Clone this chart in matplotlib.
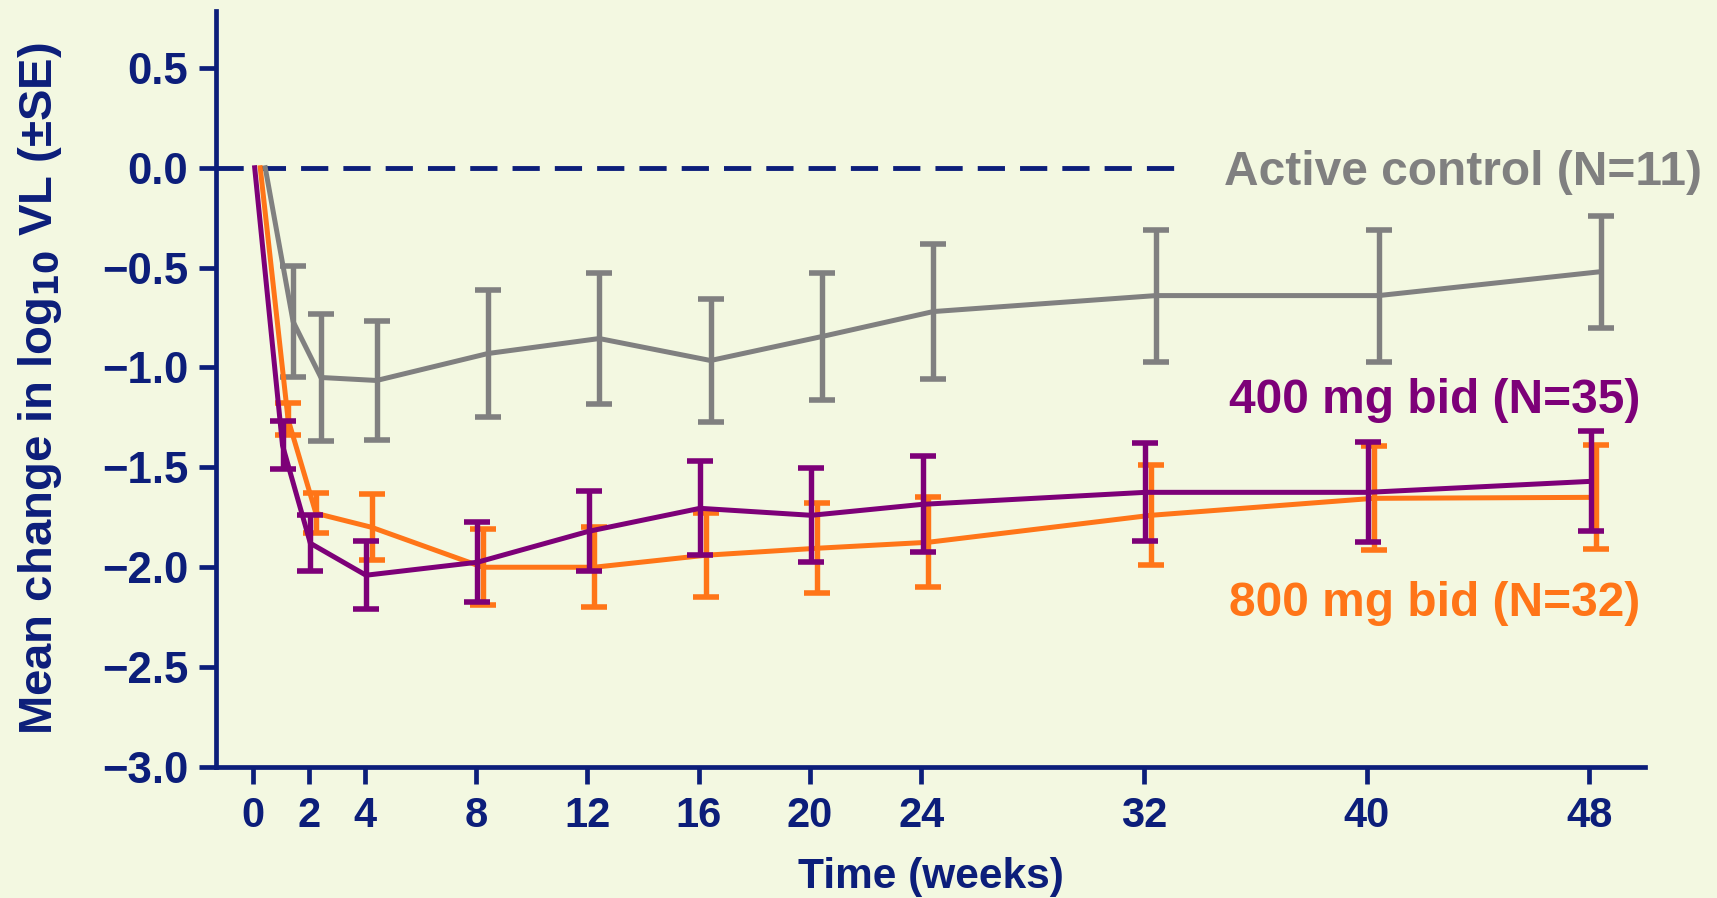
import numpy as np
import matplotlib
matplotlib.use('Agg')
import matplotlib.pyplot as plt
from matplotlib.ticker import FuncFormatter

plt.rcParams['font.family'] = ['Liberation Sans', 'DejaVu Sans']
plt.rcParams['font.weight'] = 'bold'

# data
weeks = [0, 1, 2, 4, 8, 12, 16, 20, 24, 32, 40, 48]
x_ticks = [0, 2, 4, 8, 12, 16, 20, 24, 32, 40, 48]

control_mean = [0, -0.77, -1.05, -1.065, -0.93, -0.855, -0.965, -0.845, -0.72, -0.64, -0.64, -0.52]
control_se = [0, 0.28, 0.32, 0.30, 0.32, 0.33, 0.31, 0.32, 0.34, 0.33, 0.33, 0.28]

mg400_mean = [0, -1.39, -1.88, -2.04, -1.975, -1.82, -1.705, -1.74, -1.685, -1.625, -1.625, -1.57]
mg400_se = [0, 0.12, 0.14, 0.17, 0.20, 0.20, 0.235, 0.235, 0.24, 0.245, 0.25, 0.25]

mg800_mean = [0, -1.26, -1.73, -1.80, -2.0, -2.0, -1.94, -1.905, -1.875, -1.74, -1.655, -1.65]
mg800_se = [0, 0.08, 0.10, 0.165, 0.19, 0.20, 0.21, 0.225, 0.225, 0.25, 0.26, 0.26]

labels = ['Active control (N=11)', '400 mg bid (N=35)', '800 mg bid (N=32)']

bg = '#f3f8e1'
navy = '#0c1e7a'
c_gray = '#808080'
c_purple = '#7d0078'
c_orange = '#ff7518'

fig = plt.figure(figsize=(17.17, 8.98), dpi=100, facecolor=bg)
ax = fig.add_axes([0.1258, 0.1459, 0.958 - 0.1258, 0.9878 - 0.1459])
ax.set_facecolor(bg)

w = np.array(weeks, dtype=float)

# reference line at zero
ax.plot([-1.34, 33.4], [0, 0], color=navy, lw=3.5, linestyle=(0, (5.6, 3.1)),
        zorder=2, solid_capstyle='butt')

series = [
    (control_mean, control_se, c_gray, 0.43),
    (mg800_mean, mg800_se, c_orange, 0.25),
    (mg400_mean, mg400_se, c_purple, 0.05),
]
for i, (m, se, col, off) in enumerate(series):
    ax.plot(w + off, m, color=col, lw=3.6, zorder=3 + i)
    ax.errorbar(w[1:] + off, m[1:], yerr=se[1:], fmt='none', ecolor=col,
                elinewidth=3.9, capsize=9.7, capthick=4.0, zorder=3 + i)

ax.text(34.86, 0, labels[0], color=c_gray, fontsize=34.5, fontweight='bold',
        ha='left', va='center_baseline')
ax.text(35.04, -1.14, labels[1], color=c_purple, fontsize=34.5, fontweight='bold',
        ha='left', va='center_baseline')
ax.text(35.04, -2.157, labels[2], color=c_orange, fontsize=34.5, fontweight='bold',
        ha='left', va='center_baseline')

ax.set_xlim(-1.34, 50)
ax.set_ylim(-3.0, 0.785)
ax.set_xticks(x_ticks)
ax.set_yticks(np.arange(-3.0, 0.51, 0.5))
ax.yaxis.set_major_formatter(FuncFormatter(lambda v, p: f'{v:.1f}'.replace('-', '\u2212')
                                           if abs(v) > 1e-9 else '0.0'))

for s in ['top', 'right']:
    ax.spines[s].set_visible(False)
for s in ['left', 'bottom']:
    ax.spines[s].set_color(navy)
    ax.spines[s].set_linewidth(3.4)

ax.tick_params(axis='both', colors=navy, width=3.4, length=12)
ax.tick_params(axis='x', pad=9, labelsize=30)
ax.tick_params(axis='y', pad=8, labelsize=31.5)
for lab in ax.get_xticklabels() + ax.get_yticklabels():
    lab.set_fontweight('bold')

ax.set_xlabel('Time (weeks)', color=navy, fontsize=30.5, fontweight='bold', labelpad=15)
ax.set_ylabel('Mean change in log$_{\\mathbf{10}}$ VL (±SE)', color=navy, fontsize=34,
              fontweight='bold', labelpad=27)

fig.savefig('out.png', dpi=100, facecolor=bg)
